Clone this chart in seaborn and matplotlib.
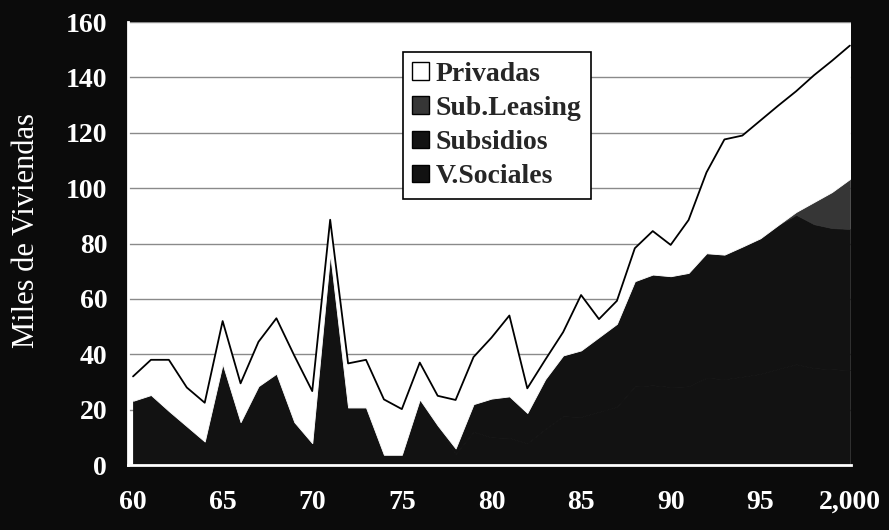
import matplotlib
matplotlib.use("Agg")
import matplotlib.pyplot as plt
from matplotlib.patches import Patch
import pandas as pd
import seaborn as sns

# miles de viviendas por año, 1960-2000
years = list(range(1960, 2001))
v_sociales = [23.2, 25.3, 19.5, 14.0, 8.5, 36.5, 15.5, 28.5, 33.0, 15.5,
              7.9, 76.2, 20.8, 20.8, 3.7, 3.7, 23.7, 14.3, 4.0, 12.0,
              10.0, 9.8, 7.8, 13.0, 17.6, 17.4, 19.2, 21.0, 28.4, 28.8,
              28.2, 28.4, 31.5, 31.0, 31.9, 32.9, 34.7, 36.4, 35.0, 34.6,
              34.3]
subsidios = [0, 0, 0, 0, 0, 0, 0, 0, 0, 0,
             0, 0, 0, 0, 0, 0, 0, 0, 2, 10,
             14, 15, 11, 18, 22, 24, 27, 30, 38, 40,
             40, 41, 45, 45, 47, 49, 52, 54, 52, 51,
             51]
sub_leasing = [0, 0, 0, 0, 0, 0, 0, 0, 0, 0,
               0, 0, 0, 0, 0, 0, 0, 0, 0, 0,
               0, 0, 0, 0, 0, 0, 0, 0, 0, 0,
               0, 0, 0, 0, 0, 0, 0, 1, 8, 13,
               18]
privadas = [8.8, 12.7, 18.5, 14.0, 14.0, 15.5, 14.0, 16.0, 20.0, 24.0,
            18.8, 12.4, 15.9, 17.2, 20.0, 16.5, 13.3, 10.7, 17.5, 17.0,
            22.0, 29.2, 8.9, 7.0, 8.4, 20.0, 6.5, 8.3, 11.9, 15.7,
            11.3, 19.1, 29.2, 41.6, 40.1, 42.5, 43.1, 43.6, 45.8, 47.4,
            48.2]

tick_years = [1960, 1965, 1970, 1975, 1980, 1985, 1990, 1995, 2000]
tick_labels = ["60", "65", "70", "75", "80", "85", "90", "95", "2,000"]
y_ticks = [0, 20, 40, 60, 80, 100, 120, 140, 160]

legend_labels = ["Privadas", "Sub.Leasing", "Subsidios", "V.Sociales"]
dark = "#121212"
leasing_color = "#363636"

df = pd.DataFrame({"year": years, "v_sociales": v_sociales, "subsidios": subsidios,
                   "sub_leasing": sub_leasing, "privadas": privadas})
df["total"] = df[["v_sociales", "subsidios", "sub_leasing", "privadas"]].sum(axis=1)

sns.set_style("white")
plt.rcParams["font.family"] = ["Liberation Serif", "DejaVu Serif"]
plt.rcParams["font.weight"] = "bold"

fig = plt.figure(figsize=(8.89, 5.30), dpi=100, facecolor="#0b0b0b")
ax = fig.add_axes([0.144, 0.1226, 0.813, 0.8358])
ax.set_facecolor("white")

# gridlines sit behind the filled areas
ax.grid(axis="y", color="#8a8a8a", linewidth=1)
ax.set_axisbelow(True)

polys = ax.stackplot(df["year"], df["v_sociales"], df["subsidios"], df["sub_leasing"], df["privadas"],
                     colors=[dark, dark, leasing_color, "white"], zorder=2)
for p, ec in zip(polys, [dark, dark, leasing_color, "white"]):
    p.set_edgecolor(ec)
    p.set_linewidth(0.6)

sns.lineplot(data=df, x="year", y="total", color="black", linewidth=1.3, ax=ax, zorder=3)

ax.set_xlim(1959.72, 2000.05)
ax.set_ylim(0, 160)
ax.set_xlabel("")
ax.set_ylabel("")

ax.set_xticks(tick_years)
ax.set_xticklabels(tick_labels)
ax.set_xticks(years, minor=True)
ax.set_yticks(y_ticks)

ax.tick_params(axis="both", which="both", colors="white", direction="out", length=8, width=2,
               labelsize=20)
ax.tick_params(axis="x", which="major", pad=10)
ax.tick_params(axis="y", pad=7)

sns.despine(ax=ax, top=True, right=True)
for side in ["left", "bottom"]:
    ax.spines[side].set_color("white")
    ax.spines[side].set_linewidth(2)

fig.text(0.030, 0.566, "Miles de Viviendas", rotation=90, ha="center", va="center",
         color="white", fontsize=22, fontweight="normal")

handles = [Patch(facecolor="white", edgecolor="black", linewidth=1),
           Patch(facecolor=leasing_color, edgecolor="black", linewidth=1),
           Patch(facecolor=dark, edgecolor="black", linewidth=1),
           Patch(facecolor=dark, edgecolor="black", linewidth=1)]
leg = ax.legend(handles, legend_labels, loc="upper left", bbox_to_anchor=(0.38, 0.932),
                borderaxespad=0, frameon=True, fancybox=False, framealpha=1,
                edgecolor="black", prop={"size": 20, "weight": "bold"},
                handlelength=0.6, handleheight=0.6, handletextpad=0.25,
                labelspacing=0.33, borderpad=0.35)
leg.get_frame().set_linewidth(1.2)
leg.set_zorder(5)

plt.savefig("out.png", dpi=100, facecolor=fig.get_facecolor())
